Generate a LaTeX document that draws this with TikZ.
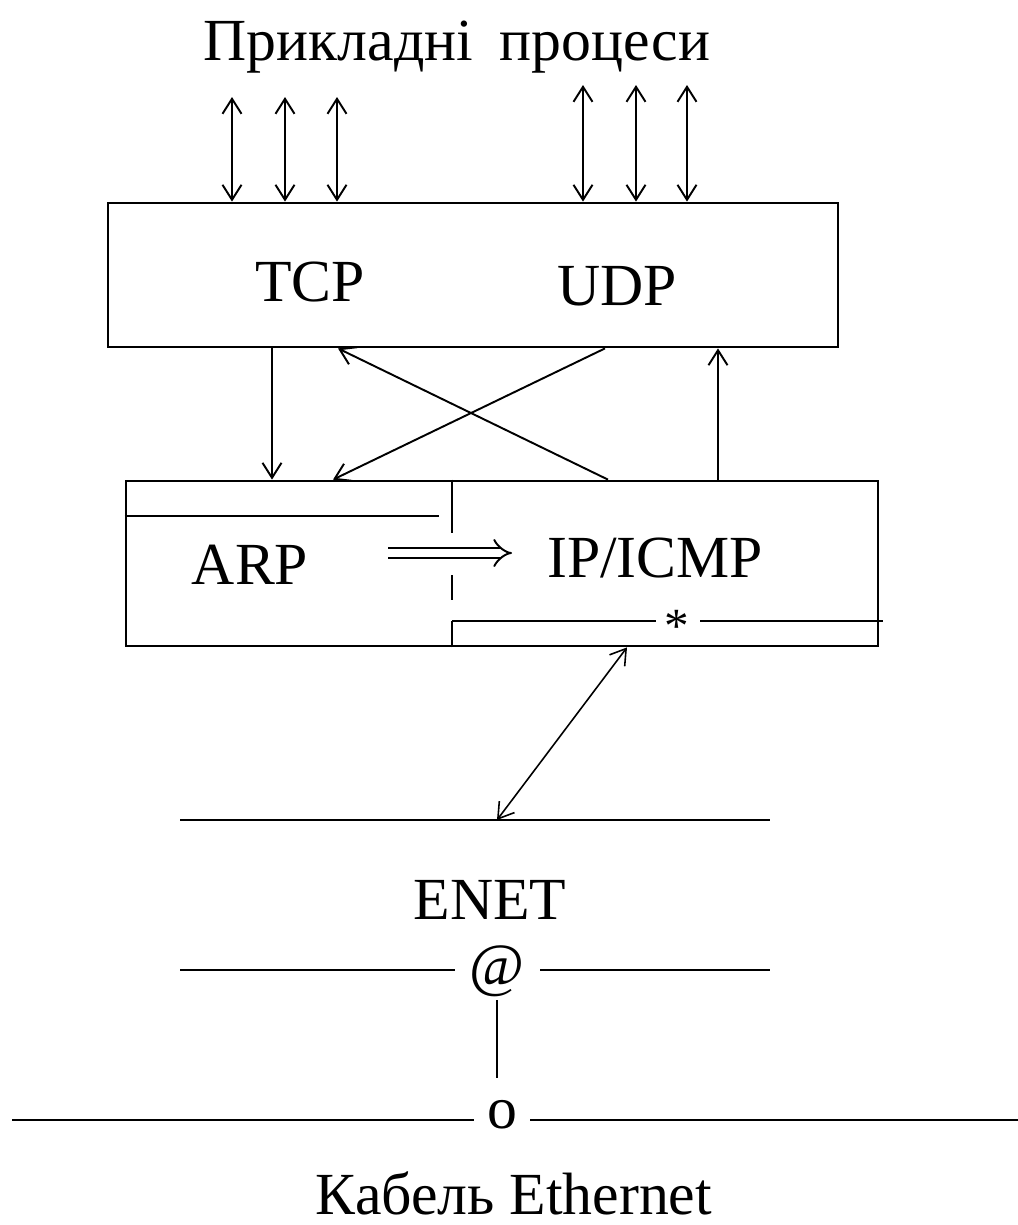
\documentclass[tikz,border=0pt]{standalone}
\usepackage{fontspec}
\setmainfont{Liberation Serif}
\usetikzlibrary{arrows.meta,positioning,calc}

\begin{document}
\begin{tikzpicture}[x=0.02cm,y=-0.02cm]
    \tikzset{
      blk/.style={draw=black, line width=1.6pt},
      lbl/.style={font=\fontsize{34}{40}\selectfont, inner sep=0pt, anchor=base},
      bus/.style={draw=black, line width=1.6pt},
      sig/.style={line width=1.1pt, -{Straight Barb[length=0.3cm,width=0.38cm]}},
      dsig/.style={line width=1.1pt, {Straight Barb[length=0.3cm,width=0.38cm]}-{Straight Barb[length=0.3cm,width=0.38cm]}}
    }
    \useasboundingbox (0,0) rectangle (1018,1225);

    % Title
    \node[lbl] (apps) at (457,60) {Прикладні\hspace{0.45em}процеси};

    % Transport box
    \node[blk, minimum width=14.6cm, minimum height=2.88cm, inner sep=0pt] (transp) at (473,275) {};
    \node[lbl] (tcp) at (310,301) {TCP};
    \node[lbl] (udp) at (617,305) {UDP};

    % Application arrows
    \foreach \x in {232,285,337} {
      \draw[dsig] (\x,97) -- (\x,0 |- transp.north);
    }
    \foreach \x in {583,636,687} {
      \draw[dsig] (\x,85) -- (\x,0 |- transp.north);
    }

    % Network box
    \node[blk, minimum width=15.04cm, minimum height=3.3cm, inner sep=0pt] (ipbox) at (502,563.5) {};
    \node[lbl] (arp) at (250,584) {ARP};
    \node[lbl] (ip) at (655,577) {IP/ICMP};
    \draw[blk] (ipbox.west |- 0,516) -- (439,516);
    \draw[blk] (452,0 |- ipbox.north) -- (452,533);
    \draw[blk] (452,575) -- (452,600);
    \draw[blk] (452,0 |- ipbox.south) -- (452,621);
    \node[lbl, font=\fontsize{28}{32}\selectfont] (star) at (677,642) {*};
    \draw[blk] (452,621) -- (656,621);
    \draw[blk] (700,621) -- (883,621);
    \draw[line width=1.1pt, double distance=4.5pt, -{Implies[length=0.3cm]}] (388,553) -- (512,553);

    % Between boxes
    \draw[sig] (272,0 |- transp.south) -- (272,0 |- ipbox.north);
    \draw[sig] (605,0 |- transp.south) -- (333,0 |- ipbox.north);
    \draw[sig] (608,0 |- ipbox.north) -- (338,0 |- transp.south);
    \draw[sig] (718,0 |- ipbox.north) -- (718,0 |- transp.south);

    % Driver
    \coordinate (enettop) at (497,820);
    \draw[dsig, line width=0.9pt] (627,0 |- ipbox.south) -- (enettop);
    \draw[bus] (180,820) -- (770,820);
    \node[lbl] (enet) at (490,919) {ENET};
    \node[lbl] (at) at (497,985) {@};
    \draw[bus] (180,970) -- (455,970);
    \draw[bus] (540,970) -- (770,970);
    \draw[bus] (497,1000) -- (497,1078);

    % Cable
    \node[lbl] (tap) at (502,1128) {o};
    \draw[bus] (12,1120) -- (474,1120);
    \draw[bus] (530,1120) -- (1018,1120);
    \node[lbl] (cable) at (514,1214) {Кабель Ethernet};
\end{tikzpicture}
\end{document}
